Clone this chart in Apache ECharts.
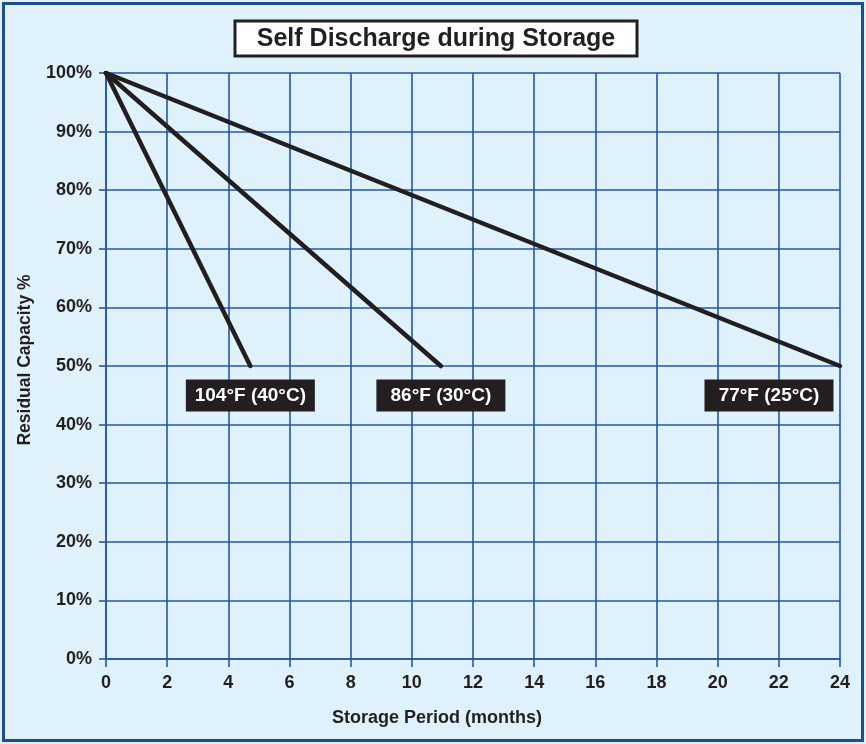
<!DOCTYPE html>
<html>
<head>
<meta charset="utf-8">
<script src="https://cdn.jsdelivr.net/npm/echarts@6/dist/echarts.min.js"></script>
<style>
html,body{margin:0;padding:0;background:#dff2fb;}
#chart{width:866px;height:744px;}
</style>
</head>
<body>
<div id="chart"></div>
<script>
// Data (months, residual capacity %)
const xTicks = [0,2,4,6,8,10,12,14,16,18,20,22,24];
const yTicks = [0,10,20,30,40,50,60,70,80,90,100];
const seriesNames = ['104°F (40°C)', '86°F (30°C)', '77°F (25°C)'];
const line104 = [[0,100],[4.72,50]];
const line86 = [[0,100],[10.95,50]];
const line77 = [[0,100],[24,50]];

const FONT = '"Liberation Sans", Arial, Helvetica, sans-serif';
const INK = '#231f20';
const GRID = '#2456a2';

function mkSeries(name, data, offsetX) {
  const last = data[data.length - 1];
  return {
    name: name,
    type: 'line',
    data: data,
    symbol: 'none',
    lineStyle: { color: INK, width: 4.5, cap: 'round', join: 'round' },
    z: 5,
    silent: true,
    animation: false,
    markPoint: {
      silent: true,
      animation: false,
      symbol: 'circle',
      symbolSize: 1,
      itemStyle: { color: 'rgba(0,0,0,0)' },
      data: [{ coord: last, value: name }],
      label: {
        show: true,
        formatter: name,
        position: 'bottom',
        distance: 13,
        offset: [offsetX, 0],
        backgroundColor: INK,
        color: '#ffffff',
        fontFamily: FONT,
        fontWeight: 'bold',
        fontSize: 19,
        lineHeight: 20,
        padding: [6, 8, 6, 8],
        width: 113,
        align: 'center'
      }
    }
  };
}

const chart = echarts.init(document.getElementById('chart'), null, { renderer: 'canvas' });
chart.setOption({
  backgroundColor: '#dff2fb',
  animation: false,
  graphic: [
    { type: 'rect', shape: { x: 3.5, y: 3.5, width: 859, height: 737 },
      style: { fill: 'none', stroke: '#1f4d8f', lineWidth: 3 }, z: 0, silent: true },
    { type: 'group', x: 235, y: 21, z: 10, children: [
      { type: 'rect', shape: { x: 0, y: 0, width: 402, height: 35 },
        style: { fill: '#ffffff', stroke: INK, lineWidth: 3 } },
      { type: 'text', x: 201, y: 18,
        style: { text: 'Self Discharge during Storage', fill: INK, font: 'bold 25px ' + FONT,
                 align: 'center', verticalAlign: 'middle' } }
    ]}
  ],
  grid: { left: 106, right: 26, top: 73, bottom: 85, containLabel: false },
  xAxis: {
    type: 'value', min: 0, max: 24, interval: 2,
    name: 'Storage Period (months)', nameLocation: 'middle', nameGap: 50,
    nameTextStyle: { color: INK, fontFamily: FONT, fontWeight: 'bold', fontSize: 18, padding: [0, 72, 0, 0] },
    axisLine: { show: true, lineStyle: { color: GRID, width: 1.6 } },
    axisTick: { show: true, length: 8, lineStyle: { color: GRID, width: 1.6 } },
    axisLabel: { color: INK, fontFamily: FONT, fontWeight: 'bold', fontSize: 18, margin: 15,
                 formatter: v => xTicks.includes(v) ? String(v) : '' },
    splitLine: { show: true, lineStyle: { color: GRID, width: 1.6 } }
  },
  yAxis: {
    type: 'value', min: 0, max: 100, interval: 10,
    name: 'Residual Capacity %', nameLocation: 'middle', nameGap: 72, nameRotate: 90,
    nameTextStyle: { color: INK, fontFamily: FONT, fontWeight: 'bold', fontSize: 17.5, padding: [0, 0, 0, 12] },
    axisLine: { show: true, lineStyle: { color: GRID, width: 1.6 } },
    axisTick: { show: true, length: 7, lineStyle: { color: GRID, width: 1.6 } },
    axisLabel: { color: INK, fontFamily: FONT, fontWeight: 'bold', fontSize: 18, margin: 14,
                 padding: [8, 0, 0, 0],
                 formatter: v => yTicks.includes(v) ? v + '%' : '' },
    splitLine: { show: true, lineStyle: { color: GRID, width: 1.6 } }
  },
  series: [
    mkSeries(seriesNames[0], line104, 0),
    mkSeries(seriesNames[1], line86, 0),
    mkSeries(seriesNames[2], line77, -71)
  ]
});
</script>
</body>
</html>
